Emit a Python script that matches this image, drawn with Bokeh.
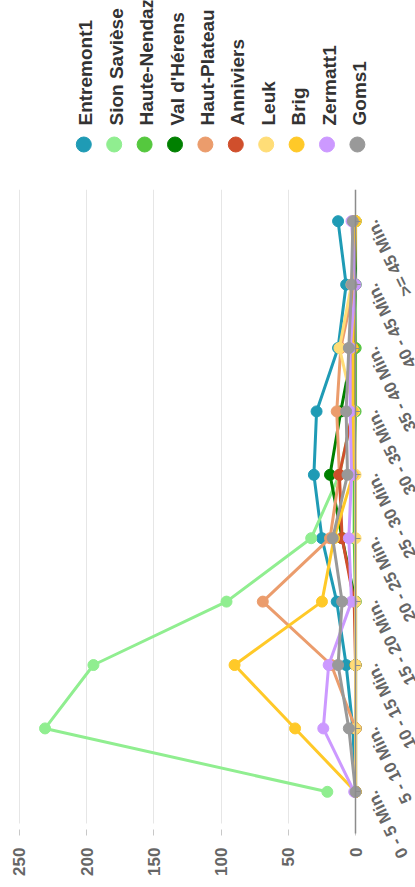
import math
from bokeh.plotting import figure
from bokeh.models import Range1d, LinearAxis, FixedTicker, CustomJSTickFormatter
from bokeh.layouts import column
from bokeh.embed import file_html
from bokeh.resources import INLINE
from bokeh.core.properties import value

# ---------------- data ----------------
categories = ["0 - 5 Min.", "5 - 10 Min.", "10 - 15 Min.", "15 - 20 Min.", "20 - 25 Min.",
              "25 - 30 Min.", "30 - 35 Min.", "35 - 40 Min.", "40 - 45 Min.", ">= 45 Min."]
series_names = ["Entremont1", "Sion Savièse", "Haute-Nendaz", "Val d'Hérens", "Haut-Plateau",
                "Anniviers", "Leuk", "Brig", "Zermatt1", "Goms1"]
colors = ["#1f9bb5", "#90ee90", "#55c83e", "#008000", "#eb9c6c",
          "#d04f2c", "#ffdd77", "#ffc928", "#cc99ff", "#999999"]

entremont1 = [0, 2, 7, 14, 25, 31, 29, 13, 7, 13]
sion_saviese = [21, 231, 195, 96, 33, 12, 2, 0, 0, 0]
haute_nendaz = [0, 0, 0, 0, 1, 1, 0, 0, 1, 0]
val_d_herens = [0, 0, 0, 0, 10, 19, 11, 2, 0, 0]
haut_plateau = [0, 0, 18, 69, 19, 12, 14, 11, 1, 0]
anniviers = [0, 0, 0, 1, 10, 12, 2, 2, 2, 1]
leuk = [0, 0, 0, 0, 0, 0, 1, 12, 3, 0]
brig = [0, 45, 90, 25, 16, 2, 2, 2, 1, 0]
zermatt1 = [1, 24, 20, 3, 5, 3, 4, 4, 0, 3]
goms1 = [0, 5, 13, 10, 17, 6, 7, 5, 3, 2]

series_values = [entremont1, sion_saviese, haute_nendaz, val_d_herens, haut_plateau,
                 anniviers, leuk, brig, zermatt1, goms1]
value_ticks = [0, 50, 100, 150, 200, 250]

FONT = "Liberation Sans"
cat_index = list(range(len(categories)))

# ---------------- legend (rotated) ----------------
leg = figure(width=415, height=189, x_range=Range1d(-2.740, 10.911), y_range=Range1d(0, 189),
             output_backend="svg", toolbar_location=None, min_border=0,
             x_axis_location=None, y_axis_location=None, outline_line_color=None)
leg.grid.visible = False
leg_idx = list(range(len(series_names)))
leg.scatter(x=leg_idx, y=[45] * len(leg_idx), size=15, fill_color=colors, line_color=colors)
leg.text(x=leg_idx, y=[64] * len(leg_idx), text=series_names, angle=math.pi / 2,
         text_align="left", text_baseline="middle", x_offset=2,
         text_font=value(FONT), text_font_size="19px", text_font_style="bold",
         text_color="#333333")

# ---------------- main chart (rotated) ----------------
p = figure(width=415, height=698, x_range=Range1d(264.14, -44.6), y_range=Range1d(-1.509, 9.5),
           output_backend="svg", toolbar_location=None, min_border=0,
           x_axis_location=None, y_axis_location=None, outline_line_color=None)
p.ygrid.visible = False
p.xgrid.ticker = FixedTicker(ticks=value_ticks)
p.xgrid.grid_line_color = "#e6e6e6"
p.xgrid.cross_bounds = (-0.5, 9.5)

# value axis (drawn along the bottom of the plot area)
xaxis = LinearAxis(ticker=FixedTicker(ticks=value_ticks), fixed_location=-0.5,
                   axis_line_color=None,
                   major_tick_in=-6, major_tick_out=12, major_tick_line_color="#c8c8c8",
                   minor_tick_line_color=None, major_label_orientation=math.pi / 2,
                   major_label_standoff=12, major_label_text_font=FONT,
                   major_label_text_font_size="17px", major_label_text_font_style="bold",
                   major_label_text_color="#666666")
p.add_layout(xaxis, "below")

# category axis (line at value 0, ticks to the right)
yaxis = LinearAxis(ticker=FixedTicker(ticks=cat_index), fixed_location=0, bounds=(-0.66, 9.5),
                   axis_line_color="#8c8c8c", axis_line_width=1.5,
                   major_tick_in=0, major_tick_out=5, major_tick_line_color="#8c8c8c",
                   minor_tick_line_color=None, major_label_standoff=0,
                   formatter=CustomJSTickFormatter(code="return ''"))
p.add_layout(yaxis, "right")

for vals, c in zip(series_values, colors):
    p.line(x=vals, y=cat_index, line_color=c, line_width=3)
    p.scatter(x=vals, y=cat_index, size=11, fill_color=c, line_color=c)

p.text(x=[0] * len(cat_index), y=cat_index, text=categories, x_offset=16,
       angle=math.radians(116), text_align="right", text_baseline="middle",
       text_font=value(FONT), text_font_size="17px", text_font_style="bold",
       text_color="#666666")

layout = column(leg, p, spacing=0)
open("out.html", "w").write(file_html(layout, INLINE))
